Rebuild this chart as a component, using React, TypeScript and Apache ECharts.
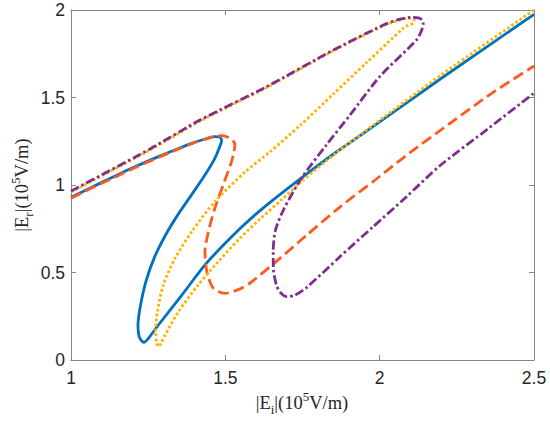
import React, { useEffect, useRef } from 'react';
import * as echarts from 'echarts';

const xTicks = [1, 1.5, 2, 2.5];
const yTicks = [0, 0.5, 1, 1.5, 2];

const blueCurve = [
  [1.0, 0.93], [1.1, 1.015], [1.2, 1.098], [1.283, 1.162], [1.35, 1.21], [1.391, 1.238],
  [1.43, 1.26], [1.466, 1.276], [1.481, 1.274], [1.488, 1.258], [1.486, 1.238], [1.466, 1.152],
  [1.434, 1.057], [1.391, 0.945], [1.348, 0.835], [1.305, 0.71], [1.27, 0.585], [1.243, 0.45],
  [1.225, 0.31], [1.217, 0.2], [1.222, 0.128], [1.236, 0.101], [1.25, 0.122], [1.283, 0.2],
  [1.359, 0.371], [1.434, 0.543], [1.49, 0.65], [1.547, 0.75], [1.6, 0.835], [1.655, 0.915],
  [1.75, 1.045], [1.861, 1.19], [1.947, 1.295], [2.2, 1.61], [2.5, 1.975],
];

const orangeCurve = [
  [1.0, 0.925], [1.1, 1.01], [1.2, 1.093], [1.283, 1.157], [1.35, 1.207], [1.391, 1.236],
  [1.43, 1.26], [1.466, 1.278], [1.49, 1.282], [1.51, 1.272], [1.525, 1.252], [1.531, 1.229],
  [1.528, 1.19], [1.52, 1.133], [1.493, 1.0], [1.466, 0.867], [1.445, 0.733], [1.434, 0.619],
  [1.44, 0.505], [1.461, 0.41], [1.499, 0.381], [1.542, 0.402], [1.58, 0.44], [1.655, 0.548],
  [1.764, 0.714], [1.871, 0.874], [1.979, 1.02], [2.087, 1.17], [2.226, 1.35], [2.363, 1.524],
  [2.5, 1.68],
];

const yellowCurve = [
  [1.0, 0.96], [1.256, 1.2], [1.418, 1.365], [1.634, 1.557], [1.85, 1.767], [2.012, 1.91],
  [2.06, 1.94], [2.095, 1.952], [2.112, 1.945], [2.108, 1.925], [2.09, 1.91], [2.076, 1.895],
  [1.958, 1.7], [1.85, 1.52], [1.742, 1.34], [1.645, 1.19], [1.564, 1.075], [1.466, 0.905],
  [1.391, 0.733], [1.337, 0.581], [1.299, 0.429], [1.28, 0.276], [1.274, 0.162], [1.277, 0.1],
  [1.283, 0.076], [1.292, 0.098], [1.305, 0.143], [1.348, 0.276], [1.412, 0.429], [1.477, 0.562],
  [1.547, 0.695], [1.612, 0.805], [1.68, 0.912], [1.75, 1.025], [1.861, 1.185], [1.947, 1.3],
  [2.2, 1.63], [2.5, 2.0],
];

const purpleCurve = [
  [1.0, 0.965], [1.256, 1.206], [1.418, 1.371], [1.634, 1.562], [1.85, 1.771], [2.012, 1.914],
  [2.06, 1.945], [2.1, 1.958], [2.125, 1.955], [2.138, 1.942], [2.141, 1.92], [2.135, 1.88],
  [2.12, 1.83], [2.0, 1.619], [1.904, 1.4], [1.828, 1.23], [1.747, 1.04], [1.688, 0.857],
  [1.662, 0.74], [1.655, 0.62], [1.656, 0.514], [1.666, 0.425], [1.68, 0.383], [1.699, 0.362],
  [1.725, 0.37], [1.764, 0.415], [1.871, 0.59], [1.979, 0.762], [2.087, 0.933], [2.195, 1.11],
  [2.35, 1.32], [2.5, 1.525],
];

const xName = '{n||E}{sub|i}{n||(10}{sup|5}{n|V/m)}';
const yName = '{n||E}{sub|r}{n||(10}{sup|5}{n|V/m)}';

export default function App() {
  const ref = useRef<HTMLDivElement>(null);
  useEffect(() => {
    const chart = echarts.init(ref.current!, undefined, { renderer: 'svg' });
    const axisColor = '#868686';
    const labelStyle = {
      fontFamily: 'Liberation Sans, Arial, sans-serif',
      fontSize: 17.5,
      color: '#262626',
    };
    const mkX = (pos: 'bottom' | 'top') => ({
      type: 'value',
      position: pos,
      min: xTicks[0],
      max: xTicks[xTicks.length - 1],
      interval: xTicks[1] - xTicks[0],
      axisLine: { show: true, onZero: false, lineStyle: { color: axisColor, width: 1 } },
      axisTick: { show: true, inside: true, length: 5, lineStyle: { color: axisColor } },
      axisLabel: { show: pos === 'bottom', margin: 9, ...labelStyle, formatter: (v: number) => String(v) },
      splitLine: { show: false },
    });
    const mkY = (pos: 'left' | 'right') => ({
      type: 'value',
      position: pos,
      min: yTicks[0],
      max: yTicks[yTicks.length - 1],
      interval: yTicks[1] - yTicks[0],
      axisLine: { show: true, onZero: false, lineStyle: { color: axisColor, width: 1 } },
      axisTick: { show: true, inside: true, length: 5, lineStyle: { color: axisColor } },
      axisLabel: { show: pos === 'left', margin: 6, ...labelStyle, formatter: (v: number) => String(v) },
      splitLine: { show: false },
    });
    const serif = 'Liberation Serif, Times New Roman, serif';
    const rich = {
      n: { fontFamily: serif, fontSize: 18.5, lineHeight: 26, verticalAlign: 'middle', fill: '#262626' },
      sub: { fontFamily: serif, fontSize: 13, verticalAlign: 'bottom', fill: '#262626' },
      sup: { fontFamily: serif, fontSize: 13, verticalAlign: 'top', fill: '#262626' },
    };
    const line = (data: number[][], color: string, type: any) => ({
      type: 'line',
      data,
      showSymbol: false,
      symbol: 'none',
      smooth: 0.25,
      lineStyle: { color, width: 2.8, type, cap: 'butt' },
      xAxisIndex: 0,
      yAxisIndex: 0,
    });
    chart.setOption({
      animation: false,
      backgroundColor: '#ffffff',
      grid: { left: 71, right: 16, top: 10, bottom: 68, containLabel: false },
      xAxis: [mkX('bottom'), mkX('top')],
      yAxis: [mkY('left'), mkY('right')],
      series: [
        line(blueCurve, '#0072BD', 'solid'),
        line(orangeCurve, '#FF5A1F', [11, 5]),
        line(yellowCurve, '#FFB300', [2.7, 2.3]),
        line(purpleCurve, '#7E2F8E', [9, 3, 2.5, 3]),
      ],
      graphic: [
        {
          type: 'text',
          x: 302,
          y: 403,
          style: { text: xName, rich, align: 'center', verticalAlign: 'middle', fill: '#262626' },
        },
        {
          type: 'text',
          x: 22,
          y: 185,
          rotation: Math.PI / 2,
          style: { text: yName, rich, align: 'center', verticalAlign: 'middle', fill: '#262626' },
        },
      ],
    });
    return () => chart.dispose();
  }, []);
  return (
    <div
      ref={ref}
      style={{ position: 'fixed', left: 0, top: 0, width: 550, height: 428, background: '#fff' }}
    />
  );
}
